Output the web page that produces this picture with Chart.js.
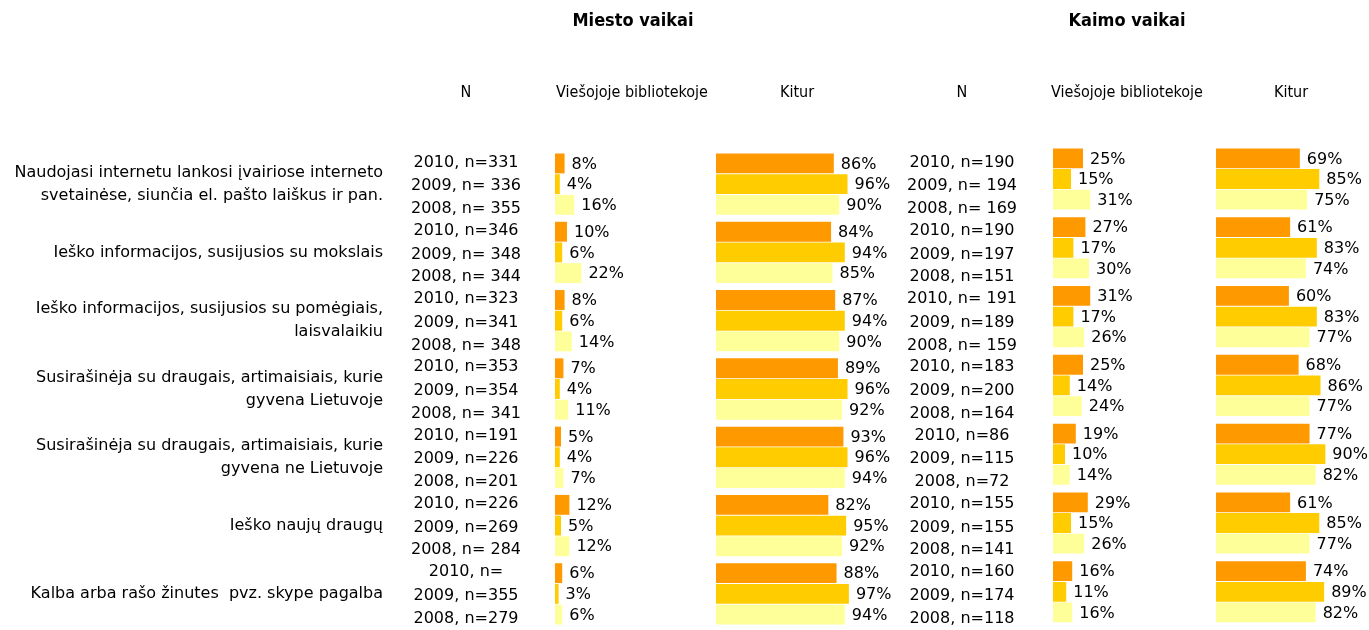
<!DOCTYPE html>
<html>
<head>
<meta charset="utf-8">
<script src="https://cdn.jsdelivr.net/npm/chart.js@4"></script>
<style>
    body { margin: 0; background: #fff; }
    .wrap { position: relative; width: 1369px; height: 630px; }
    .wrap canvas { position: absolute; left: 0; top: 0; }
</style>
</head>
<body>
<div class="wrap">
    <canvas id="miesto" width="1369" height="630"></canvas>
    <canvas id="kaimo" width="1369" height="630"></canvas>
</div>
<script>
// data

const categories = [
    ['Naudojasi internetu lankosi įvairiose interneto', 'svetainėse, siunčia el. pašto laiškus ir pan.'],
    'Ieško informacijos, susijusios su mokslais',
    ['Ieško informacijos, susijusios su pomėgiais,', 'laisvalaikiu'],
    ['Susirašinėja su draugais, artimaisiais, kurie', 'gyvena Lietuvoje'],
    ['Susirašinėja su draugais, artimaisiais, kurie', 'gyvena ne Lietuvoje'],
    'Ieško naujų draugų',
    'Kalba arba rašo žinutes  pvz. skype pagalba'
]
const years = ['2010', '2009', '2008']

const miestoLib2010 = [8, 10, 8, 7, 5, 12, 6]
const miestoLib2009 = [4, 6, 6, 4, 4, 5, 3]
const miestoLib2008 = [16, 22, 14, 11, 7, 12, 6]
const miestoKitur2010 = [86, 84, 87, 89, 93, 82, 88]
const miestoKitur2009 = [96, 94, 94, 96, 96, 95, 97]
const miestoKitur2008 = [90, 85, 90, 92, 94, 92, 94]

const kaimoLib2010 = [25, 27, 31, 25, 19, 29, 16]
const kaimoLib2009 = [15, 17, 17, 14, 10, 15, 11]
const kaimoLib2008 = [31, 30, 26, 24, 14, 26, 16]
const kaimoKitur2010 = [69, 61, 60, 68, 77, 61, 74]
const kaimoKitur2009 = [85, 83, 83, 86, 90, 85, 89]
const kaimoKitur2008 = [75, 74, 77, 77, 82, 77, 82]

const miestoN2010 = ['2010, n=331', '2010, n=346', '2010, n=323', '2010, n=353', '2010, n=191', '2010, n=226', '2010, n=']
const miestoN2009 = ['2009, n= 336', '2009, n= 348', '2009, n=341', '2009, n=354', '2009, n=226', '2009, n=269', '2009, n=355']
const miestoN2008 = ['2008, n= 355', '2008, n= 344', '2008, n= 348', '2008, n= 341', '2008, n=201', '2008, n= 284', '2008, n=279']
const kaimoN2010 = ['2010, n=190', '2010, n=190', '2010, n= 191', '2010, n=183', '2010, n=86', '2010, n=155', '2010, n=160']
const kaimoN2009 = ['2009, n= 194', '2009, n=197', '2009, n=189', '2009, n=200', '2009, n=115', '2009, n=155', '2009, n=174']
const kaimoN2008 = ['2008, n= 169', '2008, n=151', '2008, n= 159', '2008, n=164', '2008, n=72', '2008, n=141', '2008, n=118']

const colors = ['#FF9900', '#FFCC00', '#FFFF99']

// layout helpers

const FONT = '"DejaVu Sans", Verdana, sans-serif'
const CONDENSED = '"DejaVu Sans Condensed", "DejaVu Sans", sans-serif'
const WIDTH = 1369

// x range so that value 0 sits at pixel `start` and one percent is `k` px
function xAxis(start, k, left) {
    return {
        type: 'linear',
        display: false,
        stacked: false,
        bounds: 'data',
        min: (left - start) / k,
        max: (WIDTH - start) / k
    }
}

function makeDatasets(lib, kitur) {
    const sets = []
    lib.forEach((data, i) => sets.push({
        label: years[i], data: data, xAxisID: 'xLib', stack: years[i],
        backgroundColor: colors[i], borderWidth: 0
    }))
    kitur.forEach((data, i) => sets.push({
        label: years[i], data: data, xAxisID: 'xKitur', stack: years[i],
        backgroundColor: colors[i], borderWidth: 0
    }))
    return sets
}

// value labels next to each bar
const valueLabels = {
    id: 'valueLabels',
    afterDatasetsDraw(chart) {
        const ctx = chart.ctx
        ctx.save()
        ctx.font = '16px ' + FONT
        ctx.fillStyle = '#000'
        ctx.textAlign = 'left'
        ctx.textBaseline = 'middle'
        chart.data.datasets.forEach((ds, i) => {
            chart.getDatasetMeta(i).data.forEach((bar, j) => {
                ctx.fillText(ds.data[j] + '%', bar.x + 7, bar.y + 1)
            })
        })
        ctx.restore()
    }
}

// N column + headers (drawn from the city chart's bar rows)
const nLabels = {
    id: 'nLabels',
    afterDatasetsDraw(chart) {
        const ctx = chart.ctx
        const miesto = [miestoN2010, miestoN2009, miestoN2008]
        const kaimo = [kaimoN2010, kaimoN2009, kaimoN2008]
        const shift = [-1, 2, 4]
        ctx.save()
        ctx.font = '16px ' + FONT
        ctx.fillStyle = '#000'
        ctx.textAlign = 'center'
        ctx.textBaseline = 'middle'
        for (let i = 0; i < 3; i++) {
            chart.getDatasetMeta(i).data.forEach((bar, j) => {
                ctx.fillText(miesto[i][j], 466, bar.y + shift[i])
                ctx.fillText(kaimo[i][j], 962, bar.y + shift[i])
            })
        }

        ctx.font = 'bold 18px ' + CONDENSED
        ctx.fillText('Miesto vaikai', 633, 21)
        ctx.fillText('Kaimo vaikai', 1127, 21)

        ctx.font = '16px ' + CONDENSED
        const heads = [['N', 466], ['Viešojoje bibliotekoje', 632], ['Kitur', 797],
            ['N', 962], ['Viešojoje bibliotekoje', 1127], ['Kitur', 1291]]
        heads.forEach(h => ctx.fillText(h[0], h[1], 93))
        ctx.restore()
    }
}

// city chart (with category labels on the left)

const miestoChart = new Chart(document.getElementById('miesto'), {
    type: 'bar',
    data: {
        labels: categories,
        datasets: makeDatasets(
            [miestoLib2010, miestoLib2009, miestoLib2008],
            [miestoKitur2010, miestoKitur2009, miestoKitur2008])
    },
    options: {
        indexAxis: 'y',
        responsive: false,
        animation: false,
        categoryPercentage: 0.91,
        barPercentage: 0.96,
        layout: { padding: { top: 150, bottom: 2, left: 0, right: 0 } },
        plugins: { legend: { display: false }, tooltip: { enabled: false } },
        scales: {
            y: {
                grid: { display: false, drawTicks: false },
                border: { display: false },
                ticks: {
                    autoSkip: false,
                    color: '#000',
                    padding: 17,
                    font: { family: FONT, size: 16, lineHeight: '23px' }
                },
                afterFit(scale) {
                    scale.width = 400
                    // labels must not push the plot area in
                    scale.paddingTop = 0
                    scale.paddingBottom = 0
                }
            },
            xLib: xAxis(555, 1.2, 400),
            xKitur: xAxis(716, 1.37, 400)
        }
    },
    plugins: [valueLabels, nLabels]
})

// village chart

const kaimoChart = new Chart(document.getElementById('kaimo'), {
    type: 'bar',
    data: {
        labels: categories,
        datasets: makeDatasets(
            [kaimoLib2010, kaimoLib2009, kaimoLib2008],
            [kaimoKitur2010, kaimoKitur2009, kaimoKitur2008])
    },
    options: {
        indexAxis: 'y',
        responsive: false,
        animation: false,
        categoryPercentage: 0.9,
        barPercentage: 0.96,
        layout: { padding: { top: 144.6, bottom: 3.8, left: 0, right: 0 } },
        plugins: { legend: { display: false }, tooltip: { enabled: false } },
        scales: {
            y: { display: false },
            xLib: xAxis(1053, 1.2, 0),
            xKitur: xAxis(1216, 1.215, 0)
        }
    },
    plugins: [valueLabels]
})
</script>
</body>
</html>
